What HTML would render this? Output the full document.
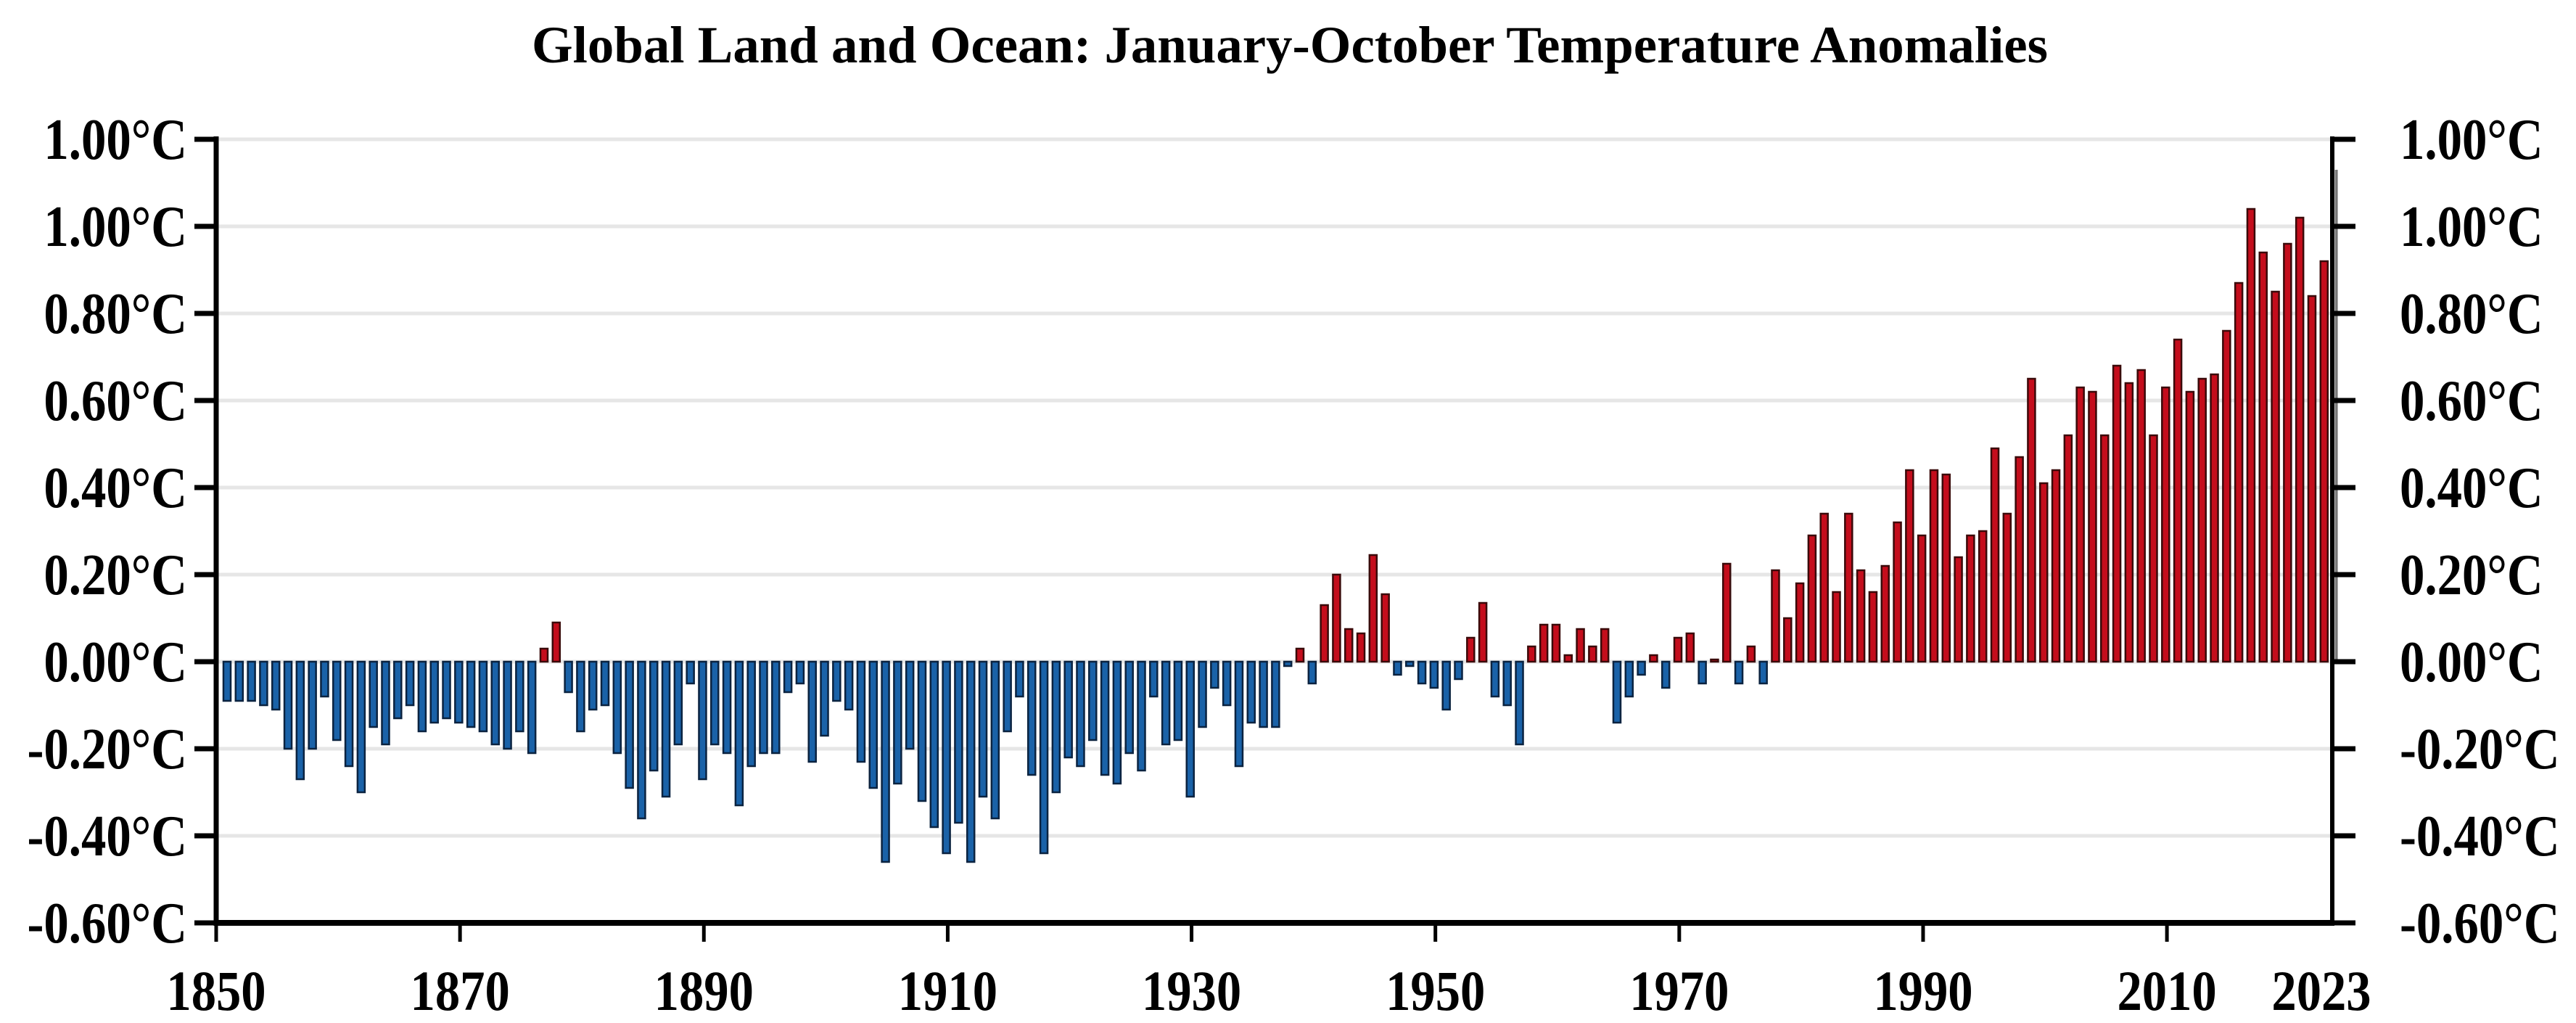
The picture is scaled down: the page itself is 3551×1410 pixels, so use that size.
<!DOCTYPE html>
<html><head><meta charset="utf-8"><style>
html,body{margin:0;padding:0;background:#fff;}
svg{display:block;}
text{font-family:"Liberation Serif",serif;font-weight:bold;fill:#000;}
</style></head><body>
<svg id="chart" width="3551" height="1410" viewBox="0 0 3551 1410" xmlns="http://www.w3.org/2000/svg">
<text x="1778" y="86" font-size="72" text-anchor="middle" textLength="2090" lengthAdjust="spacingAndGlyphs">Global Land and Ocean: January-October Temperature Anomalies</text>
<g id="grid"></g>
<g id="bars"></g>
<g id="axes"></g>
</svg>
<script>
const startYear = 1850;
const anomalies = [
-0.09,-0.09,-0.09,-0.10,-0.11,-0.20,-0.27,-0.20,-0.08,-0.18,-0.24,-0.30,-0.15,-0.19,-0.13,-0.10,-0.16,-0.14,-0.13,-0.14,-0.15,-0.16,-0.19,-0.20,-0.16,-0.21,0.03,0.09,
-0.07,-0.16,-0.11,-0.10,-0.21,-0.29,-0.36,-0.25,-0.31,-0.19,-0.05,-0.27,-0.19,-0.21,-0.33,-0.24,-0.21,
-0.21,-0.07,-0.05,-0.23,-0.17,-0.09,-0.11,-0.23,-0.29,-0.46,-0.28,-0.20,-0.32,-0.38,-0.44,-0.37,-0.46,-0.31,-0.36,-0.16,-0.08,-0.26,-0.44,-0.30,-0.22,-0.24,-0.18,-0.26,-0.28,-0.21,-0.25,-0.08,-0.19,-0.18,-0.31,-0.15,-0.06,-0.10,-0.24,-0.14,-0.15,-0.15,-0.01,0.03,-0.05,
0.13,0.20,0.075,0.065,0.245,0.155,-0.03,-0.01,-0.05,-0.06,-0.11,-0.04,0.055,0.135,-0.08,-0.10,-0.19,0.035,0.085,0.085,0.015,0.075,0.035,0.075,-0.14,-0.08,-0.03,0.015,-0.06,0.055,0.065,-0.05,0.005,0.225,-0.05,0.035,
-0.05,0.21,0.10,0.18,0.29,0.34,0.16,0.34,0.21,0.16,0.22,0.32,0.44,0.29,0.44,0.43,0.24,0.29,0.30,0.49,0.34,0.47,0.65,0.41,0.44,0.52,0.63,0.62,0.52,0.68,0.64,0.67,0.52,0.63,0.74,0.62,0.65,0.66,0.76,0.87,1.04,0.94,0.85,0.96,1.02,0.84,0.92,
1.13
];
const yTickValues = [-0.6,-0.4,-0.2,0,0.2,0.4,0.6,0.8,1.0,1.2];
const yTickLabels = ["-0.60°C","-0.40°C","-0.20°C","0.00°C","0.20°C","0.40°C","0.60°C","0.80°C","1.00°C","1.00°C"];
const xTickYears = [1850,1870,1890,1910,1930,1950,1970,1990,2010];
const xEndLabel = "2023";

const NS = "http://www.w3.org/2000/svg";
const X0 = 298, X1 = 3214, STEP = (X1 - X0) / (anomalies.length - 0.5);
function xBand(i){ return 313 + STEP * i; }
function xYear(yr){ return X0 + (yr - startYear) * STEP; }
function yVal(v){ return 912 - 600 * v; }
function mk(tag, attrs, parent){ const e = document.createElementNS(NS, tag); for (const k in attrs) e.setAttribute(k, attrs[k]); parent.appendChild(e); return e; }

const grid = document.getElementById('grid');
yTickValues.forEach(v => {
  if (v === -0.6) return;
  const l = mk('line', {x1:X0, x2:X1, y1:yVal(v), y2:yVal(v), stroke:'#e6e6e6', 'stroke-width':5}, grid);
  
  
});

const bars = document.getElementById('bars');
anomalies.forEach((v, i) => {
  const cx = xBand(i);
  const y0 = yVal(0), y1 = yVal(v);
  const last = i === anomalies.length - 1;
  const w = last ? 4 : 10;
  const r = mk('rect', {x: cx - w/2, y: Math.min(y0, y1), width: w, height: Math.max(1.5, Math.abs(y1 - y0)),
    fill: last ? '#777' : (v >= 0 ? '#c40d1c' : '#1a62a8'), stroke: last ? 'none' : (v >= 0 ? '#3a0a0a' : '#0b2340'), 'stroke-width': 2.5}, bars);
  
  
});

const axes = document.getElementById('axes');
let e;
e = mk('line', {x1:X0, x2:X0, y1:188, y2:1276, stroke:'#000', 'stroke-width':7}, axes);


e = mk('line', {x1:X1+1, x2:X1+1, y1:188, y2:1276, stroke:'#000', 'stroke-width':6}, axes);


e = mk('line', {x1:X0-3, x2:X1+4, y1:1272, y2:1272, stroke:'#000', 'stroke-width':8}, axes);



yTickValues.forEach((v, k) => {
  const y = yVal(v);
  e = mk('line', {x1:X0-30, x2:X0, y1:y, y2:y, stroke:'#000', 'stroke-width':7}, axes);
  
  
  e = mk('line', {x1:X1, x2:X1+33, y1:y, y2:y, stroke:'#000', 'stroke-width':7}, axes);
  
  
  const tl = mk('text', {x:0, y:0, 'font-size':80, 'text-anchor':'end', transform:'translate(258,' + (y + 27) + ') scale(0.86,1)'}, axes);
  tl.textContent = yTickLabels[k];
  
  
  const tr = mk('text', {x:0, y:0, 'font-size':80, 'text-anchor':'start', transform:'translate(3308,' + (y + 27) + ') scale(0.86,1)'}, axes);
  tr.textContent = yTickLabels[k];
  
  
});

xTickYears.forEach(yr => {
  const x = xYear(yr);
  e = mk('line', {x1:x, x2:x, y1:1272, y2:1298, stroke:'#000', 'stroke-width':5}, axes);
  
  
  const t = mk('text', {x:0, y:0, 'font-size':78, 'text-anchor':'middle', transform:'translate(' + x + ',1392) scale(0.88,1)'}, axes);
  t.textContent = String(yr);
  
  
});
const te = mk('text', {x:0, y:0, 'font-size':78, 'text-anchor':'middle', transform:'translate(3200,1392) scale(0.88,1)'}, axes);
te.textContent = xEndLabel;


</script>
</body></html>
